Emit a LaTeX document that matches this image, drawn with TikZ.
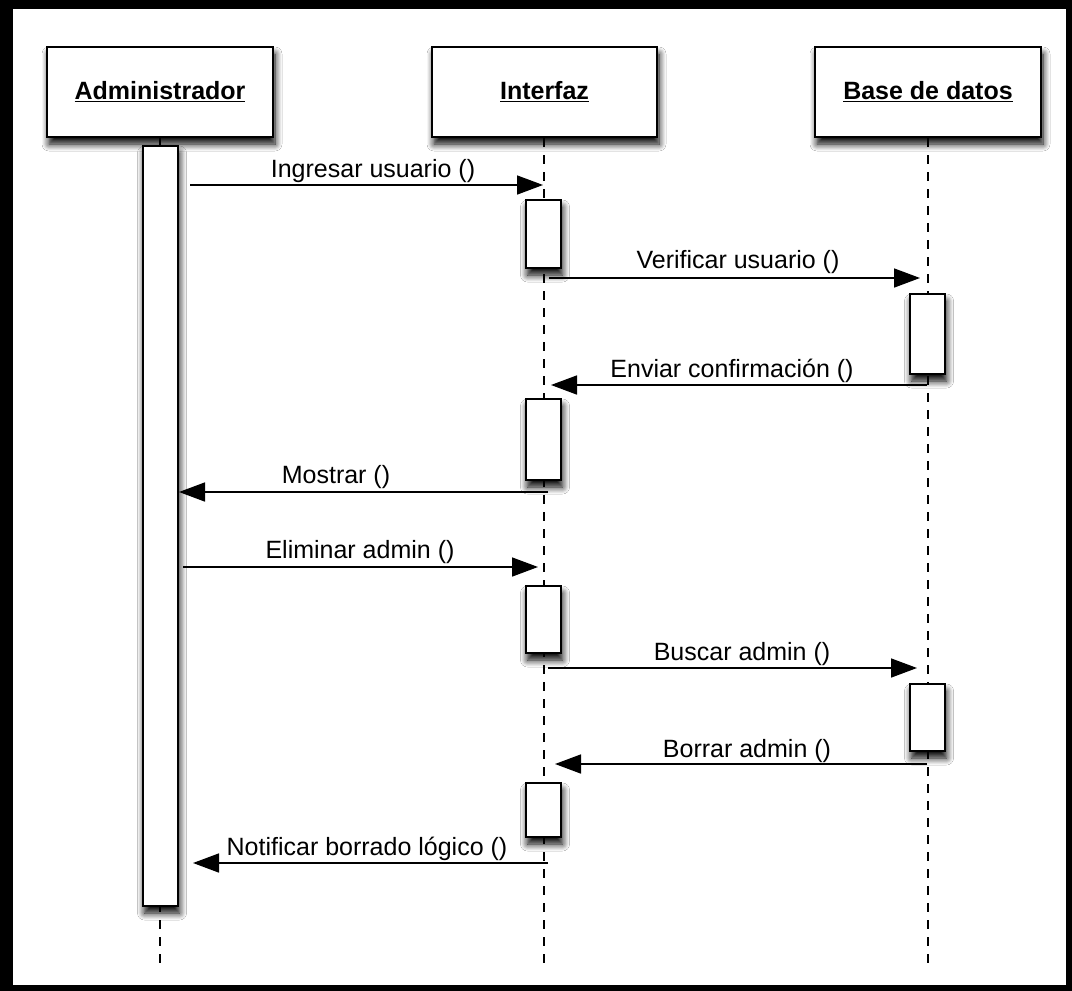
\documentclass[tikz,border=0pt]{standalone}
\usepackage{fontspec}
\setmainfont{Liberation Sans}
\usetikzlibrary{arrows.meta,shadows.blur}
\begin{document}
\begin{tikzpicture}[x=1pt,y=-1pt,
  shade box/.style={blur shadow={shadow xshift=2pt,shadow yshift=-7pt,shadow blur radius=7pt,shadow blur steps=8,shadow opacity=100}},
  head/.style={draw=black,line width=2pt,fill=white,minimum width=226pt,minimum height=90pt,
    inner sep=0pt,shade box,font=\fontsize{25}{29}\selectfont\bfseries},
  act/.style={draw=black,line width=2pt,fill=white,minimum width=35pt,inner sep=0pt,anchor=north,shade box},
  life/.style={line width=1.6pt,dash pattern=on 9pt off 8pt},
  msg/.style={line width=1.6pt,-{Triangle[length=26pt,width=19pt]}},
  lbl/.style={anchor=base,inner sep=0pt,font=\fontsize{25}{29}\selectfont}]

% frame
\fill[black] (0,0) rectangle (1072,991);
\fill[white] (13,9) rectangle (1066,985);
\useasboundingbox (0,0) rectangle (1072,991);

% lifeline heads
\node[head] (adm) at (160,92) {\underline{Administrador}};
\node[head,minimum width=225pt] (ifz) at (544.5,92) {\underline{Interfaz}};
\node[head] (bd) at (928,92) {\underline{Base de datos}};

% lifelines
\coordinate (admEnd) at (160,965);
\coordinate (ifzEnd) at (544,965);
\coordinate (bdEnd) at (928,965);
\draw[life] (adm.south) -- (admEnd);
\draw[life] (ifz.south -| ifzEnd) -- (ifzEnd);
\draw[life] (bd.south) -- (bdEnd);

% activation bars
\node[act,minimum height=760pt] (a0) at (160,145) {};
\node[act,minimum height=68pt] (i1) at (543,199) {};
\node[act,minimum height=80pt] (b1) at (927,293) {};
\node[act,minimum height=81pt] (i2) at (543,398) {};
\node[act,minimum height=67pt] (i3) at (543,585) {};
\node[act,minimum height=67pt] (b2) at (927,683) {};
\node[act,minimum height=54pt] (i4) at (543,782) {};

% message end points
\coordinate (m1s) at (190,185); \coordinate (m1e) at (543,185);
\coordinate (m2s) at (549,278); \coordinate (m2e) at (920,278);
\coordinate (m3s) at (927,385); \coordinate (m3e) at (551,385);
\coordinate (m4s) at (548,492); \coordinate (m4e) at (179,492);
\coordinate (m5s) at (183,567); \coordinate (m5e) at (538,567);
\coordinate (m6s) at (548,668); \coordinate (m6e) at (917,668);
\coordinate (m7s) at (927,764); \coordinate (m7e) at (555,764);
\coordinate (m8s) at (548,863); \coordinate (m8e) at (193,863);

% messages
\draw[msg] (m1s) -- (m1e);
\draw[msg] (m2s) -- (m2e);
\draw[msg] (m3s) -- (m3e);
\draw[msg] (m4s) -- (m4e);
\draw[msg] (m5s) -- (m5e);
\draw[msg] (m6s) -- (m6e);
\draw[msg] (m7s) -- (m7e);
\draw[msg] (m8s) -- (m8e);

% message labels
\node[lbl] (l1) at (373,177) {Ingresar usuario ()};
\node[lbl] (l2) at (738,268) {Verificar usuario ()};
\node[lbl] (l3) at (732,377) {Enviar confirmación ()};
\node[lbl] (l4) at (336,483) {Mostrar ()};
\node[lbl] (l5) at (360,558) {Eliminar admin ()};
\node[lbl] (l6) at (742,660) {Buscar admin ()};
\node[lbl] (l7) at (747,757) {Borrar admin ()};
\node[lbl] (l8) at (367,855) {Notificar borrado lógico ()};
\end{tikzpicture}
\end{document}
